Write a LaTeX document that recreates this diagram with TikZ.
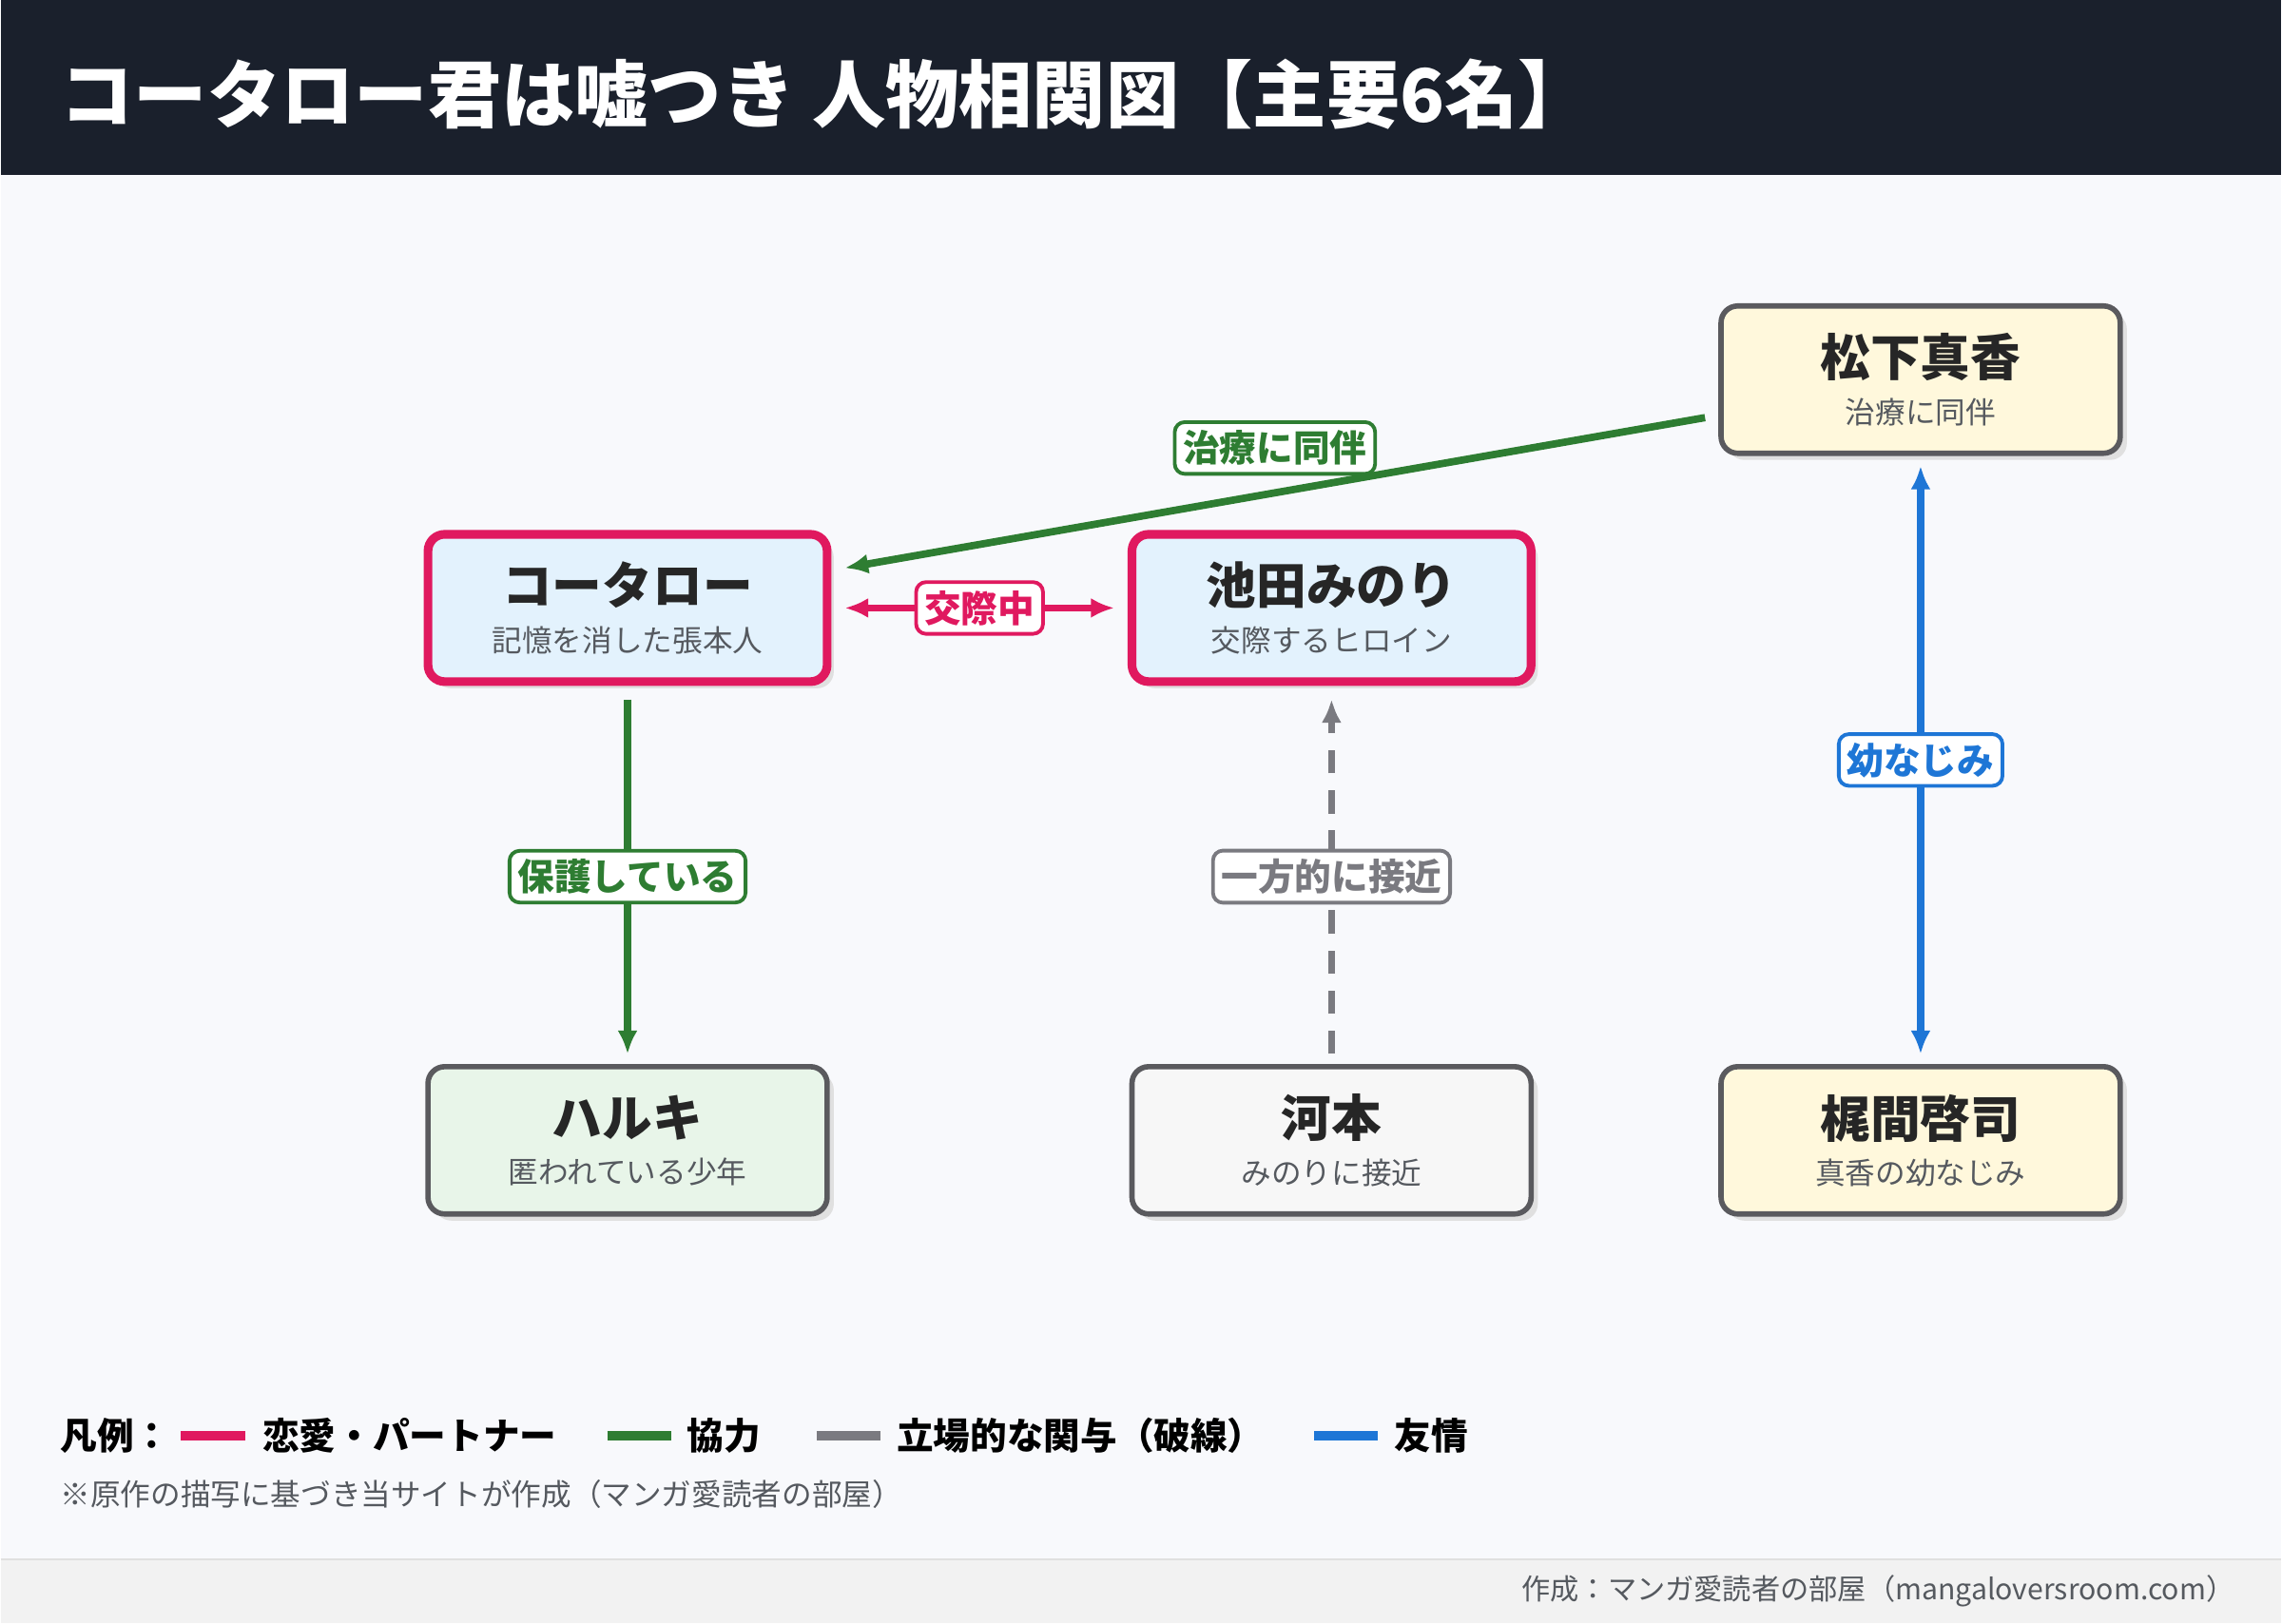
\documentclass[tikz,border=0pt]{standalone}
\usepackage{fontspec}
\setmainfont{Noto Sans CJK JP}
\usetikzlibrary{positioning,arrows.meta,shadows}
\definecolor{headbg}{HTML}{1A202C}
\definecolor{pagebg}{HTML}{F8F9FC}
\definecolor{love}{HTML}{E0195F}
\definecolor{coop}{HTML}{2E7D32}
\definecolor{standc}{HTML}{7A7A80}
\definecolor{friend}{HTML}{1E76D6}
\definecolor{boxline}{HTML}{5A5A5E}
\definecolor{subtext}{HTML}{55595F}
\definecolor{heroFill}{HTML}{E3F2FD}
\definecolor{yelFill}{HTML}{FFF8DC}
\definecolor{grnFill}{HTML}{E8F5E9}
\tikzset{
  person/.style={ % image of one character card
    draw=boxline, line width=1.6pt, rounded corners=5pt, text=black!85,
    minimum width=4.2cm, minimum height=1.55cm, align=center,
    drop shadow={shadow xshift=0.07cm, shadow yshift=-0.07cm, fill=black!12, opacity=1}
  },
  hero/.style={person, draw=love, line width=2.6pt, fill=heroFill},
  rel/.style={line width=2.2pt, -{Latex[length=7pt,width=6pt]}},
  tag/.style={draw=#1, text=#1, fill=white, line width=1.1pt, rounded corners=3pt,
    inner sep=2.5pt, font=\bfseries\fontsize{11}{12}\selectfont},
  legline/.style={line width=3pt}
}
\newcommand{\card}[2]{{\bfseries\fontsize{15}{17}\selectfont #1}\\[2pt]{\color{subtext}\fontsize{9}{11}\selectfont #2}}
\begin{document}
\begin{tikzpicture}[x=0.01531cm,y=-0.01531cm]
  % background, header, footer
  \fill[pagebg] (0,0) rectangle (1568,1116);
  \fill[headbg] (0,0) rectangle (1568,120);
  \fill[black!5] (0,1072) rectangle (1568,1116);
  \draw[black!12] (0,1072) -- (1568,1072);
  \node[anchor=west, text=white, font=\bfseries\fontsize{22}{24}\selectfont] (title) at (33,65) {コータロー君は嘘つき 人物相関図【主要6名】};

  % characters
  \node[hero] (kotaro) at (431,418) {\card{コータロー}{記憶を消した張本人}};
  \node[hero] (minori) at (915,418) {\card{池田みのり}{交際するヒロイン}};
  \node[person, fill=yelFill] (madoka) at (1320,261) {\card{松下真香}{治療に同伴}};
  \node[person, fill=grnFill] (haruki) at (431,784) {\card{ハルキ}{匿われている少年}};
  \node[person, fill=black!3] (kawamoto) at (915,784) {\card{河本}{みのりに接近}};
  \node[person, fill=yelFill] (kajima) at (1320,784) {\card{梶間啓司}{真香の幼なじみ}};

  % relations
  \draw[rel, coop] ([xshift=-4pt,yshift=-0.4cm]madoka.west) -- ([xshift=4pt,yshift=-0.4cm]kotaro.north east) node[tag=coop, pos=0.5, above=0.18cm] {治療に同伴};
  \draw[rel, love, {Latex[length=7pt,width=6pt]}-{Latex[length=7pt,width=6pt]}] ([xshift=4pt]kotaro.east) -- ([xshift=-4pt]minori.west) node[tag=love, midway] {交際中};
  \draw[rel, coop] ([yshift=-4pt]kotaro.south) -- ([yshift=3pt]haruki.north) node[tag=coop, midway] {保護している};
  \draw[rel, standc, dash pattern=on 7pt off 5pt] ([yshift=3pt]kawamoto.north) -- ([yshift=-4pt]minori.south) node[tag=standc, midway, solid] {一方的に接近};
  \draw[rel, friend, {Latex[length=7pt,width=6pt]}-{Latex[length=7pt,width=6pt]}] ([yshift=-3pt]madoka.south) -- ([yshift=3pt]kajima.north) node[tag=friend, midway] {幼なじみ};

  % legend
  \node[anchor=west, font=\bfseries\fontsize{11}{12}\selectfont] (legend) at (33,987) {凡例：};
  \draw[legline, love] (124,987) -- (168,987);
  \node[anchor=west, font=\bfseries\fontsize{11}{12}\selectfont] (lgLove) at (172,987) {恋愛・パートナー};
  \draw[legline, coop] (417,987) -- (461,987);
  \node[anchor=west, font=\bfseries\fontsize{11}{12}\selectfont] (lgCoop) at (464,987) {協力};
  \draw[legline, standc] (561,987) -- (605,987);
  \node[anchor=west, font=\bfseries\fontsize{11}{12}\selectfont] (lgPos) at (608,987) {立場的な関与（破線）};
  \draw[legline, friend] (903,987) -- (947,987);
  \node[anchor=west, font=\bfseries\fontsize{11}{12}\selectfont] (lgFriend) at (950,987) {友情};
  \node[anchor=west, text=subtext, font=\fontsize{9}{11}\selectfont] (note) at (33,1027) {※原作の描写に基づき当サイトが作成（マンガ愛読者の部屋）};
  \node[anchor=east, text=subtext, font=\fontsize{8.6}{11}\selectfont] (credit) at (1544,1094) {作成：マンガ愛読者の部屋（mangaloversroom.com）};
\end{tikzpicture}
\end{document}
